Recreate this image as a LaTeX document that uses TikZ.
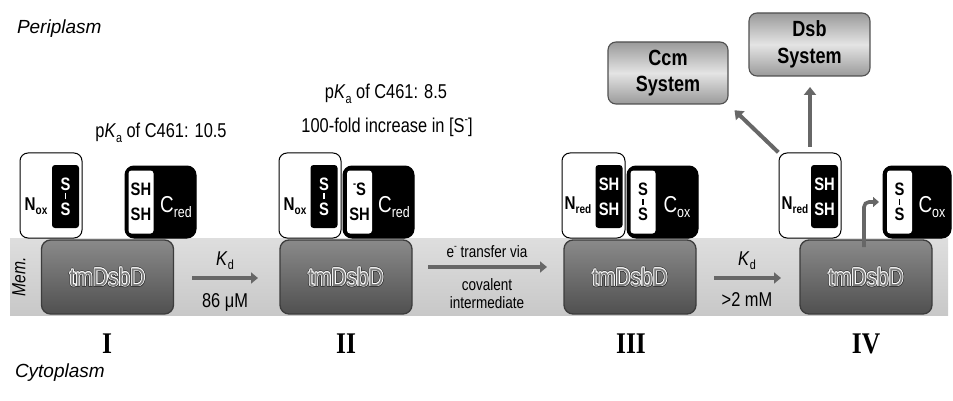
\documentclass[tikz,border=0pt]{standalone}
\usepackage{fontspec}
\setmainfont{Liberation Sans}[FakeStretch=0.82]
\newfontfamily\widesans{Liberation Sans}
\newfontfamily\numfont{Liberation Serif}[FakeStretch=0.85]
\usetikzlibrary{arrows.meta,calc}

\definecolor{bandtop}{HTML}{DEDEDE}
\definecolor{bandbot}{HTML}{C8C8C8}
\definecolor{tmtop}{HTML}{8A8A8A}
\definecolor{tmbot}{HTML}{505050}
\definecolor{tmborder}{HTML}{3C3C3C}
\definecolor{tmfill}{HTML}{7A7A7A}
\definecolor{tmedge}{HTML}{3A3A3A}
\definecolor{sysedge}{HTML}{9A9A9A}
\definecolor{sysmid}{HTML}{E4E4E4}
\definecolor{sysborder}{HTML}{505050}
\definecolor{arrowgray}{HTML}{676767}

\newcommand\fsz[1]{\fontsize{#1}{#1}\selectfont}
\newcommand\dn[1]{\raisebox{-0.22em}{\scalebox{0.66}{#1}}}
\newcommand\up[1]{\raisebox{0.48em}{\scalebox{0.62}{#1}}}
% one copy of a word, shifted and coloured, with no width of its own
\newcommand\ringat[4]{\rlap{\hspace*{#1}\raisebox{#2}{\textcolor{#3}{#4}}}}
% grey letters with a white rim and a dark outer edge
\newcommand\embossed[1]{%
  \ringat{-1.5pt}{0pt}{tmedge}{#1}\ringat{1.5pt}{0pt}{tmedge}{#1}%
  \ringat{0pt}{1.5pt}{tmedge}{#1}\ringat{0pt}{-1.5pt}{tmedge}{#1}%
  \ringat{-1.1pt}{1.1pt}{tmedge}{#1}\ringat{1.1pt}{1.1pt}{tmedge}{#1}%
  \ringat{-1.1pt}{-1.1pt}{tmedge}{#1}\ringat{1.1pt}{-1.1pt}{tmedge}{#1}%
  \ringat{-0.8pt}{0pt}{white}{#1}\ringat{0.8pt}{0pt}{white}{#1}%
  \ringat{0pt}{0.8pt}{white}{#1}\ringat{0pt}{-0.8pt}{white}{#1}%
  \ringat{-0.55pt}{0.55pt}{white}{#1}\ringat{0.55pt}{0.55pt}{white}{#1}%
  \ringat{-0.55pt}{-0.55pt}{white}{#1}\ringat{0.55pt}{-0.55pt}{white}{#1}%
  \textcolor{tmfill}{#1}}
% two sulfurs joined by a short bond
\newcommand\disulfide{S\\\ooalign{S\cr\hidewidth\raisebox{16pt}{\rule{1.1pt}{6pt}}\hidewidth\cr}}

\begin{document}
\begin{tikzpicture}[x=1pt,y=-1pt,
  every node/.style={inner sep=0pt, outer sep=0pt},
  band/.style={top color=bandtop, bottom color=bandbot, minimum width=938pt, minimum height=77pt},
  tmbox/.style={draw=tmborder, line width=1.3pt, rounded corners=9pt, top color=tmtop, bottom color=tmbot,
    minimum width=132pt, minimum height=74pt, font=\fsz{25.5}},
  nbox/.style={draw=black, line width=1pt, fill=white, rounded corners=8pt, minimum width=62pt, minimum height=85pt},
  nin/.style={fill=black, rounded corners=3pt, minimum width=27pt, minimum height=63pt, text=white,
    font=\bfseries\fontsize{18}{25}\selectfont, align=center},
  cbox/.style={fill=black, draw=black, line width=1pt, rounded corners=9pt, minimum width=71pt, minimum height=72pt},
  cin/.style={fill=white, rounded corners=3pt, minimum width=25pt, minimum height=63pt, text=black,
    font=\bfseries\fontsize{18}{25}\selectfont, align=center},
  nlabel/.style={anchor=base, font=\bfseries\fsz{18.5}},
  clabel/.style={anchor=base, text=white, font=\fsz{23}},
  sysbox/.style={draw=sysborder, line width=1.1pt, rounded corners=8pt, top color=sysedge, bottom color=sysedge,
    middle color=sysmid, font=\bfseries\fontsize{22}{26.5}\selectfont, align=center},
  lbl/.style={anchor=base, font=\fsz{20}},
  smalllbl/.style={anchor=base, font=\fsz{16.5}},
  roman/.style={anchor=base, font=\numfont\bfseries\fsz{30}},
  region/.style={anchor=base west, font=\widesans\itshape\fsz{19}},
  garrow/.style={draw=arrowgray, line width=4pt, -{Triangle[length=8pt,width=12pt]}},
  sarrow/.style={draw=arrowgray, line width=3.6pt, -{Triangle[length=7pt,width=11pt]}}
]
\useasboundingbox (0,0) rectangle (953,401);

% compartments
\node[region] (peri) at (17,34) {Periplasm};
\node[region] (cyto) at (15,377) {Cytoplasm};

% membrane
\node[band] (band) at (479,276.5) {};
\node[rotate=90, font=\itshape\fsz{19}] (mem) at (19,277) {Mem.};

% transmembrane domains
\node[tmbox] (tm1) at (107.5,277) {\embossed{tmDsbD}};
\node[tmbox] (tm2) at (346,277) {\embossed{tmDsbD}};
\node[tmbox] (tm3) at (630,277) {\embossed{tmDsbD}};
\node[tmbox] (tm4) at (866,277) {\embossed{tmDsbD}};

% state I
\node[nbox] (n1) at (51,195.5) {};
\node[nin] (n1in) at ([xshift=-16.5pt,yshift=-1pt]n1.east) {\disulfide};
\node[nlabel] (n1t) at (36,210) {N\dn{ox}};
\node[cbox] (c1) at (160.5,202) {};
\node[cin] (c1in) at ([xshift=16pt]c1.west) {SH\\SH};
\node[clabel] (c1t) at (176,212) {C\dn{red}};

% state II
\node[nbox] (n2) at (310,195.5) {};
\node[nin] (n2in) at ([xshift=-17pt,yshift=-1pt]n2.east) {\disulfide};
\node[nlabel] (n2t) at (295,210) {N\dn{ox}};
\node[cbox] (c2) at (378.5,202) {};
\node[cin] (c2in) at ([xshift=16.5pt]c2.west) {\up{-}S\\SH};
\node[clabel] (c2t) at (394,212) {C\dn{red}};

% state III
\node[nbox, minimum width=63pt] (n3) at (593.5,195.5) {};
\node[nin] (n3in) at ([xshift=-16pt,yshift=-1pt]n3.east) {SH\\SH};
\node[nlabel] (n3t) at (578,209) {N\dn{red}};
\node[cbox] (c3) at (662.5,202) {};
\node[cin] (c3in) at ([xshift=16pt]c3.west) {\disulfide};
\node[clabel] (c3t) at (677,212) {C\dn{ox}};

% state IV
\node[nbox] (n4) at (810,195.5) {};
\node[nin] (n4in) at ([xshift=-16.5pt,yshift=-1pt]n4.east) {SH\\SH};
\node[nlabel] (n4t) at (795,209) {N\dn{red}};
\node[cbox, minimum width=68pt] (c4) at (917,202) {};
\node[cin] (c4in) at ([xshift=16.5pt]c4.west) {\disulfide};
\node[clabel] (c4t) at (932,212) {C\dn{ox}};

% downstream partners
\node[sysbox, minimum width=120pt, minimum height=62pt] (ccm) at (668,73) {Ccm\\System};
\node[sysbox, minimum width=121pt, minimum height=63pt] (dsb) at (809.5,44.5) {Dsb\\System};

% annotations
\node[lbl] (pka1) at (161,138) {p\textit{K}\dn{a} of C461: 10.5};
\node[lbl] (pka2) at (386,99) {p\textit{K}\dn{a} of C461: 8.5};
\node[lbl] (incr) at (387,133) {100-fold increase in [S\up{-}]};

\node[lbl] (kd1) at (225,265) {\textit{K}\dn{d}};
\node[lbl] (kd1v) at (225,307) {86 μM};
\node[smalllbl] (et1) at (487,257) {e\up{-} transfer via};
\node[smalllbl] (et2) at (487,290) {covalent};
\node[smalllbl] (et3) at (487,308) {intermediate};
\node[lbl] (kd2) at (747,265) {\textit{K}\dn{d}};
\node[lbl] (kd2v) at (747,306) {>2 mM};

% state numbers
\node[roman] (r1) at (107,353) {I};
\node[roman] (r2) at (346,353) {II};
\node[roman] (r3) at (631,353) {III};
\node[roman] (r4) at (866,353) {IV};

% reaction steps
\draw[sarrow, shorten <=18.5pt, shorten >=22pt] ([yshift=-1pt]tm1.east) -- ([yshift=-1pt]tm2.west);
\draw[sarrow, shorten <=16pt, shorten >=17pt] ([yshift=10pt]tm2.east) -- ([yshift=10pt]tm3.west);
\draw[sarrow, shorten <=18pt, shorten >=19pt] ([yshift=-1pt]tm3.east) -- ([yshift=-1pt]tm4.west);

% release of the oxidised C domain
\draw[draw=arrowgray, line width=3.6pt, rounded corners=5pt, -{Triangle[length=6pt,width=10pt]}, shorten >=4pt]
  ([xshift=-2pt,yshift=-7pt]tm4.north) |- (c4.west);

% hand-over to the partner systems
\draw[garrow, shorten <=1pt, shorten >=9pt] (n4.north west) -- (ccm.south east);
\draw[garrow, shorten <=6pt, shorten >=11pt] (n4.north) -- (n4.north |- dsb.south);
\end{tikzpicture}
\end{document}
